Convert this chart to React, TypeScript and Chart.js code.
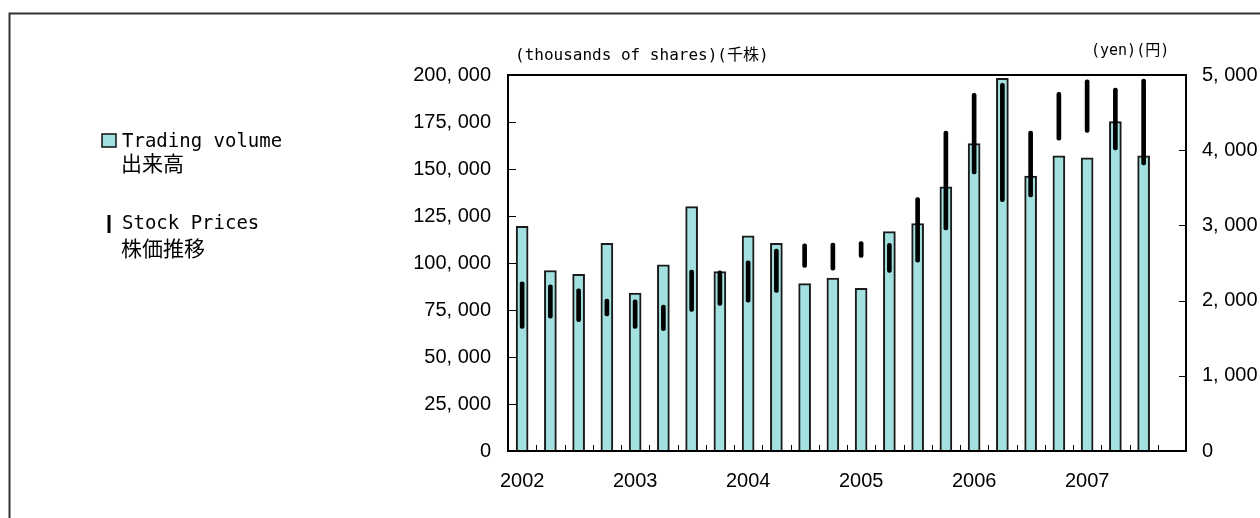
import { useEffect, useRef } from "react";
import { Chart, registerables } from "chart.js";

Chart.register(...registerables);

// Quarterly categories (2002 Q1 .. 2007 Q4); year label on the first quarter
const xTickLabels = [
  "2002", "", "", "",
  "2003", "", "", "",
  "2004", "", "", "",
  "2005", "", "", "",
  "2006", "", "", "",
  "2007", "", "", "",
];

// Trading volume (thousands of shares)
const tradingVolume = [
  119500, 96000, 94000, 110500,
  84000, 99000, 130000, 95500,
  114500, 110500, 89000, 92000,
  86500, 116700, 121000, 140500,
  163500, 198200, 146300, 157000,
  156000, 175200, 157000, null,
];

// Stock price high / low (yen)
const priceHigh = [
  2250, 2210, 2155, 2020,
  2010, 1940, 2405, 2395,
  2530, 2685, 2755, 2765,
  2785, 2760, 3370, 4255,
  4755, 4890, 4255, 4770,
  4935, 4825, 4945, null,
];
const priceLow = [
  1630, 1765, 1720, 1795,
  1630, 1600, 1855, 1935,
  1980, 2110, 2440, 2405,
  2575, 2375, 2510, 2940,
  3685, 3315, 3380, 4135,
  4235, 4005, 3805, null,
];

const volumeAxis = { min: 0, max: 200000, step: 25000 };
const priceAxis = { min: 0, max: 5000, step: 1000 };

const legendVolume = ["Trading volume", "出来高"];
const legendPrice = ["Stock Prices", "株価推移"];
const leftAxisTitle = "(thousands of shares)(千株)";
const rightAxisTitle = "(yen)(円)";

const BAR_FILL = "#a3e0e0";
const MONO = "'DejaVu Sans Mono', 'Liberation Mono', 'Noto Sans CJK JP', monospace";
const CJK = "'Noto Sans CJK JP', sans-serif";
const NUMFONT = "'Liberation Sans', Arial, sans-serif";

const fmt = (v: number) => {
  const s = Math.round(v).toLocaleString("en-US");
  return s.replace(/,/g, ", ");
};

const decorPlugin = {
  id: "decor",
  beforeDraw(chart: any) {
    const ctx = chart.ctx;
    ctx.save();
    // outer frame
    ctx.strokeStyle = "#333";
    ctx.lineWidth = 2;
    ctx.beginPath();
    ctx.moveTo(9.5, 600);
    ctx.lineTo(9.5, 13.5);
    ctx.lineTo(1300, 13.5);
    ctx.stroke();

    // legend
    ctx.fillStyle = BAR_FILL;
    ctx.fillRect(102, 134, 14, 13);
    ctx.strokeStyle = "#111";
    ctx.lineWidth = 1.5;
    ctx.strokeRect(102, 134, 14, 13);
    ctx.fillStyle = "#000";
    ctx.fillRect(107.5, 215, 3, 18);

    ctx.fillStyle = "#000";
    ctx.textAlign = "left";
    ctx.textBaseline = "alphabetic";
    ctx.font = `19px ${MONO}`;
    ctx.fillText(legendVolume[0], 122, 147);
    ctx.fillText(legendPrice[0], 122, 229);
    ctx.font = `21px ${CJK}`;
    ctx.fillText(legendVolume[1], 121, 171);
    ctx.fillText(legendPrice[1], 121, 256);

    // axis titles
    ctx.font = `16px ${MONO}`;
    ctx.fillText(leftAxisTitle, 515, 60);
    ctx.font = `15px ${MONO}`;
    ctx.fillText(rightAxisTitle, 1091, 55);
    ctx.restore();
  },
  afterDatasetsDraw(chart: any) {
    const ctx = chart.ctx;
    const a = chart.chartArea;
    const xs = chart.scales.x;
    const ys = chart.scales.y;
    const y1 = chart.scales.y1;
    ctx.save();
    ctx.strokeStyle = "#000";
    // inner tick marks
    ctx.lineWidth = 1;
    ctx.beginPath();
    const n = xTickLabels.length;
    const slot = (a.right - a.left) / n;
    for (let i = 1; i < n; i++) {
      const x = Math.round(xs.getPixelForValue(i) - slot / 2) + 0.5;
      ctx.moveTo(x, a.bottom);
      ctx.lineTo(x, a.bottom - 6);
    }
    for (let v = volumeAxis.min + volumeAxis.step; v < volumeAxis.max; v += volumeAxis.step) {
      const y = Math.round(ys.getPixelForValue(v)) + 0.5;
      ctx.moveTo(a.left, y);
      ctx.lineTo(a.left + 8, y);
    }
    for (let v = priceAxis.min + priceAxis.step; v < priceAxis.max; v += priceAxis.step) {
      const y = Math.round(y1.getPixelForValue(v)) + 0.5;
      ctx.moveTo(a.right, y);
      ctx.lineTo(a.right - 7, y);
    }
    ctx.stroke();
    // plot box
    ctx.lineWidth = 2;
    ctx.strokeRect(a.left, a.top, a.right - a.left, a.bottom - a.top);
    ctx.restore();
  },
};

export default function App() {
  const ref = useRef<HTMLCanvasElement | null>(null);

  useEffect(() => {
    if (!ref.current) return;
    const priceRange = priceHigh.map((h, i) =>
      h == null || priceLow[i] == null ? null : [priceLow[i] as number, h]
    );
    const chart = new Chart(ref.current, {
      type: "bar",
      data: {
        labels: xTickLabels,
        datasets: [
          {
            label: "Stock Prices",
            data: priceRange as any,
            yAxisID: "y1",
            backgroundColor: "#000",
            borderWidth: 0,
            barThickness: 4,
            borderRadius: 2,
            borderSkipped: false,
            grouped: false,
            order: 0,
          } as any,
          {
            label: "Trading volume",
            data: tradingVolume as any,
            yAxisID: "y",
            backgroundColor: BAR_FILL,
            borderColor: "#1a1a1a",
            borderWidth: 2,
            barThickness: 12,
            grouped: false,
            order: 1,
          } as any,
        ],
      },
      options: {
        responsive: false,
        animation: false,
        devicePixelRatio: 1,
        layout: { padding: { left: 408, right: 0, top: 75, bottom: 27 } },
        plugins: {
          legend: { display: false },
          tooltip: { enabled: false },
        },
        scales: {
          x: {
            type: "category",
            offset: true,
            grid: { display: false, drawTicks: false },
            border: { display: false },
            ticks: {
              autoSkip: false,
              maxRotation: 0,
              padding: 18,
              color: "#000",
              font: { family: NUMFONT, size: 20 },
            },
            afterFit: (s: any) => {
              s.height = 40;
            },
          },
          y: {
            position: "left",
            min: volumeAxis.min,
            max: volumeAxis.max,
            grid: { display: false, drawTicks: false },
            border: { display: false },
            ticks: {
              stepSize: volumeAxis.step,
              padding: 17,
              color: "#000",
              font: { family: NUMFONT, size: 20 },
              callback: (v: any) => fmt(Number(v)),
            },
            afterFit: (s: any) => {
              s.width = 100;
            },
          },
          y1: {
            position: "right",
            min: priceAxis.min,
            max: priceAxis.max,
            grid: { display: false, drawTicks: false },
            border: { display: false },
            ticks: {
              stepSize: priceAxis.step,
              padding: 16,
              color: "#000",
              font: { family: NUMFONT, size: 20 },
              callback: (v: any) => fmt(Number(v)),
            },
            afterFit: (s: any) => {
              s.width = 74;
            },
          },
        },
      } as any,
      plugins: [decorPlugin],
    });
    return () => chart.destroy();
  }, []);

  return (
    <div
      style={{
        position: "fixed",
        left: 0,
        top: 0,
        width: 1260,
        height: 518,
        overflow: "hidden",
        background: "#fff",
      }}
    >
      <canvas ref={ref} width={1260} height={518} style={{ display: "block" }} />
    </div>
  );
}
